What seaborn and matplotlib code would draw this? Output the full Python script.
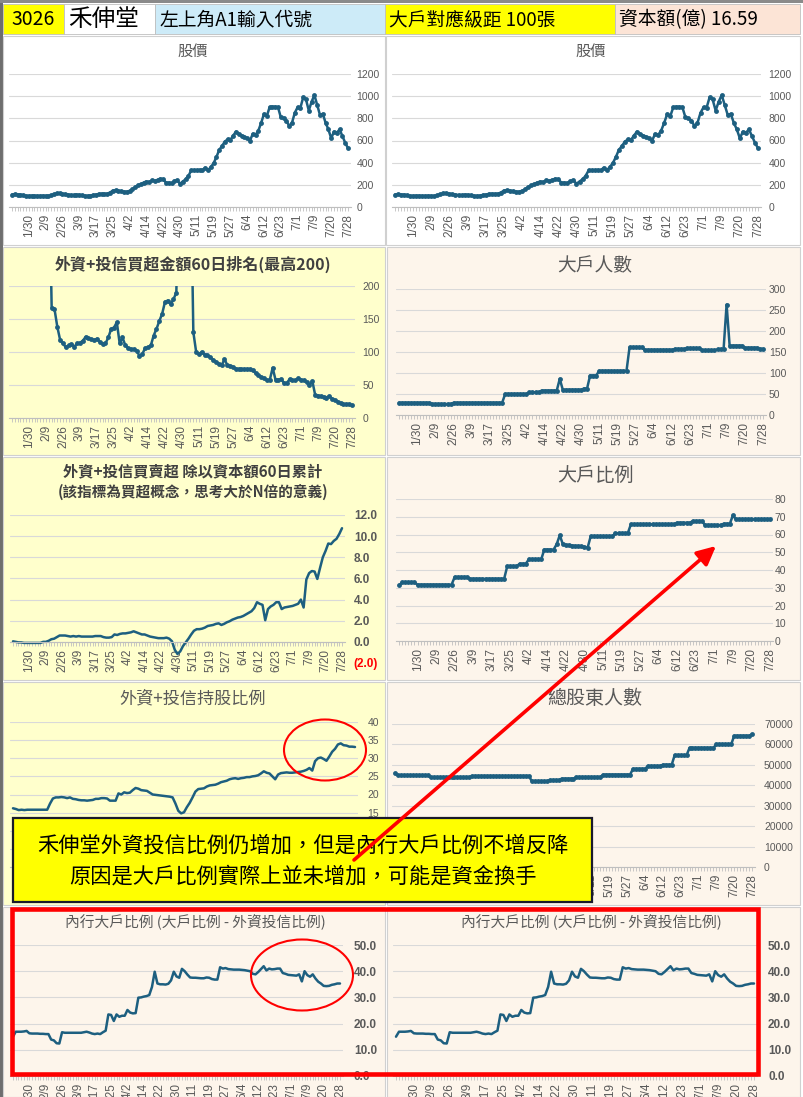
import pandas as pd
import seaborn as sns
import matplotlib.pyplot as plt
from matplotlib.patches import Rectangle, Ellipse

sns.set_style("white")
plt.rcParams['font.family'] = ['Noto Sans CJK TC', 'DejaVu Sans']
plt.rcParams['axes.unicode_minus'] = False

# ---------------- data ----------------
date_labels = ["1/30", "2/9", "2/26", "3/9", "3/17", "3/25", "4/2", "4/14", "4/22", "4/30",
               "5/11", "5/19", "5/27", "6/4", "6/12", "6/23", "7/1", "7/9", "7/20", "7/28"]
label_pos = list(range(6, 121, 6))
days = list(range(121))

price = [112, 115, 112, 112, 105, 100, 100, 102, 102, 100,
         100, 102, 100, 100, 105, 115, 122, 122, 120, 115,
         112, 108, 105, 112, 110, 105, 100, 100, 102, 108,
         112, 118, 120, 118, 120, 130, 148, 150, 148, 140,
         138, 138, 145, 160, 180, 195, 205, 220, 230, 225,
         240, 235, 245, 255, 250, 220, 220, 215, 235, 240,
         210, 230, 250, 280, 330, 330, 330, 335, 330, 355,
         330, 360, 395, 450, 515, 550, 590, 610, 605, 645,
         680, 660, 645, 635, 620, 600, 660, 650, 690, 760,
         840, 820, 900, 905, 905, 900, 810, 800, 780, 730,
         760, 850, 900, 895, 990, 970, 870, 950, 1010, 920,
         830, 840, 760, 700, 620, 680, 670, 700, 640, 580,
         530]

# values above 200 run off the top of the chart
rank60 = [400, 400, 400, 400, 400, 400, 400, 400, 400, 400,
          400, 400, 400, 400, 167, 165, 138, 118, 113, 107,
          110, 112, 108, 113, 114, 117, 123, 121, 119, 118,
          120, 115, 112, 113, 122, 135, 137, 145, 113, 122,
          110, 106, 104, 104, 102, 94, 97, 106, 107, 110,
          125, 135, 147, 158, 176, 178, 172, 180, 190, 400,
          400, 400, 400, 400, 130, 100, 97, 100, 96, 95,
          92, 88, 85, 82, 80, 89, 80, 79, 77, 75,
          74, 74, 74, 74, 74, 72, 68, 65, 62, 60,
          57, 58, 76, 58, 58, 59, 53, 53, 59, 57,
          57, 60, 58, 57, 54, 50, 56, 35, 34, 33,
          32, 31, 33, 29, 27, 25, 22, 21, 21, 21,
          19]

big_holders = [29, 29, 29, 29, 29, 29, 29, 29, 29, 29,
               29, 26, 26, 26, 26, 26, 26, 26, 29, 29,
               29, 29, 29, 29, 29, 29, 29, 29, 29, 29,
               29, 29, 29, 29, 29, 50, 50, 50, 50, 50,
               50, 50, 50, 54, 54, 54, 54, 58, 58, 58,
               58, 58, 58, 86, 60, 60, 60, 60, 60, 60,
               60, 63, 63, 94, 94, 94, 105, 105, 105, 105,
               105, 105, 105, 105, 105, 105, 161, 161, 161, 161,
               161, 155, 155, 155, 155, 155, 155, 155, 155, 155,
               155, 157, 157, 157, 157, 159, 159, 159, 159, 159,
               154, 154, 154, 154, 154, 156, 156, 156, 263, 165,
               165, 165, 165, 165, 160, 160, 160, 160, 160, 157,
               157]

cum_ratio = [0.05, 0.0, -0.05, -0.05, -0.1, -0.1, -0.1, -0.1, -0.1, -0.1,
             -0.1, 0.0, 0.0, 0.1, 0.25, 0.3, 0.45, 0.6, 0.6, 0.6,
             0.55, 0.5, 0.55, 0.5, 0.55, 0.5, 0.5, 0.5, 0.5, 0.5,
             0.55, 0.55, 0.55, 0.45, 0.4, 0.4, 0.45, 0.7, 0.65, 0.75,
             0.8, 0.8, 0.85, 0.9, 1.0, 0.9, 0.8, 0.7, 0.7, 0.6,
             0.5, 0.45, 0.4, 0.35, 0.35, 0.35, 0.4, 0.3, 0.05, -0.75,
             -1.15, -0.9, -0.4, -0.05, 0.3, 0.7, 1.05, 1.2, 1.2, 1.25,
             1.35, 1.5, 1.55, 1.6, 1.7, 1.75, 1.6, 1.7, 1.85, 1.95,
             2.1, 2.2, 2.3, 2.35, 2.45, 2.6, 2.75, 2.9, 3.2, 3.75,
             3.6, 3.5, 2.05, 3.1, 3.35, 3.5, 3.75, 3.75, 3.1, 3.25,
             3.3, 3.35, 3.4, 3.5, 3.6, 4.0, 3.25, 5.9, 6.5, 6.7,
             6.65, 5.95, 7.0, 8.0, 8.6, 9.3, 9.25, 9.55, 9.75, 10.2,
             10.75]

big_ratio = [31.3, 33.0, 33.0, 33.0, 33.0, 33.0, 31.7, 31.7, 31.7, 31.7,
             31.7, 31.7, 31.7, 31.7, 31.7, 31.7, 31.7, 31.7, 36.0, 36.0,
             36.0, 36.0, 36.0, 35.0, 35.0, 35.0, 35.0, 35.0, 35.0, 35.0,
             35.0, 35.0, 35.0, 35.0, 35.0, 42.0, 42.0, 42.0, 42.0, 43.5,
             43.5, 43.5, 46.0, 46.0, 46.0, 46.0, 46.0, 51.5, 51.5, 51.5,
             51.5, 54.5, 59.6, 54.5, 54.0, 54.0, 53.8, 53.5, 53.5, 53.3,
             53.0, 52.5, 59.0, 59.0, 59.0, 59.0, 59.0, 59.0, 59.0, 59.0,
             60.7, 60.7, 60.7, 60.7, 60.7, 65.7, 65.7, 65.7, 65.7, 65.7,
             65.7, 65.7, 65.7, 65.7, 65.7, 65.7, 65.7, 65.7, 65.7, 65.7,
             66.6, 66.6, 66.6, 66.6, 66.6, 67.5, 67.5, 67.5, 67.5, 65.3,
             65.3, 65.3, 65.3, 65.3, 65.3, 66.0, 66.0, 66.0, 70.8, 68.5,
             68.5, 68.5, 68.5, 68.5, 68.5, 68.5, 68.5, 68.5, 68.5, 68.5,
             68.5]

inst_hold = [16.2, 16.0, 15.7, 15.8, 15.7, 15.8, 15.8, 15.8, 15.8, 15.8,
             15.8, 15.8, 15.8, 17.5, 18.9, 19.2, 19.2, 19.3, 19.2, 19.0,
             19.2, 18.8, 18.7, 18.5, 18.4, 18.4, 18.3, 18.4, 18.5, 18.8,
             18.8, 19.0, 19.0, 18.9, 18.3, 18.3, 18.3, 20.3, 20.0, 20.6,
             20.4, 20.5, 21.2, 21.8, 21.6, 21.2, 21.1, 21.0, 20.5, 20.0,
             19.9, 19.8, 19.7, 19.6, 19.5, 19.4, 19.2, 17.5, 15.5, 14.8,
             15.1, 16.5, 17.7, 19.2, 20.8, 21.5, 21.6, 21.7, 22.2, 22.5,
             22.6, 22.7, 23.0, 23.4, 23.6, 23.8, 24.2, 24.4, 24.5, 24.3,
             24.5, 24.6, 24.8, 24.8, 25.0, 25.1, 25.3, 25.8, 26.4, 26.0,
             25.8, 25.0, 24.2, 25.5, 25.9, 26.0, 26.1, 26.0, 26.0, 26.1,
             26.2, 26.3, 26.5, 26.8, 27.3, 26.6, 29.2, 30.0, 30.2, 29.8,
             29.3, 30.5, 31.8, 32.6, 33.8, 34.1, 33.6, 33.5, 33.2, 33.2,
             33.1]

holders_total = [45800, 44800, 44800, 44800, 44800, 44800, 44800, 44800, 44800, 44800,
                 44800, 44800, 43900, 43900, 43900, 43900, 43900, 43900, 43900, 43900,
                 43900, 43900, 43900, 43900, 43900, 43900, 44500, 44500, 44500, 44500,
                 44500, 44500, 44500, 44500, 44500, 44500, 44500, 44500, 44500, 44500,
                 44500, 44500, 44500, 44500, 44500, 44500, 42000, 42000, 42000, 42000,
                 42000, 42000, 42500, 42500, 42500, 42500, 43200, 43200, 43200, 43200,
                 43200, 44000, 44000, 44000, 44000, 44000, 44000, 44000, 44000, 44000,
                 45200, 45200, 45200, 45200, 45200, 45200, 45200, 45200, 45200, 45200,
                 48000, 48000, 48000, 48000, 48000, 49400, 49400, 49400, 49400, 49400,
                 50000, 50000, 50000, 50000, 54700, 54700, 54700, 54700, 54700, 58300,
                 58300, 58300, 58300, 58300, 58300, 58300, 58300, 58300, 60000, 60000,
                 60000, 60000, 60000, 60000, 64200, 64200, 64200, 64200, 64200, 64200,
                 65000]

insider_ratio = [15.0, 16.9, 16.9, 16.9, 17.0, 17.2, 16.3, 16.2, 16.2, 16.2,
                 16.1, 16.1, 16.0, 16.0, 13.9, 13.6, 12.5, 12.4, 16.7, 16.5,
                 16.5, 16.5, 16.5, 16.5, 16.5, 16.5, 16.7, 16.9, 16.6, 16.2,
                 16.0, 16.2, 16.0, 16.7, 17.3, 23.5, 23.3, 21.0, 23.5, 22.6,
                 23.0, 23.0, 25.2, 24.2, 23.9, 24.0, 29.9, 30.0, 30.3, 30.5,
                 30.9, 34.0, 39.8, 35.3, 35.0, 35.0, 34.9, 35.2, 36.5, 39.8,
                 38.0, 37.5, 40.9, 40.0, 38.7, 37.6, 37.5, 37.5, 37.4, 37.3,
                 37.3, 37.6, 37.5, 37.0, 36.8, 36.8, 41.5, 41.0, 41.2, 40.8,
                 40.7, 40.6, 40.6, 40.6, 40.5, 40.4, 40.2, 40.0, 39.0, 38.8,
                 39.7, 40.8, 41.9, 40.3, 41.0, 40.7, 40.8, 41.0, 41.0, 39.3,
                 39.0, 38.6, 38.5, 38.4, 38.3, 38.8, 36.1, 40.0, 38.5, 37.9,
                 38.8, 37.2, 36.0, 35.3, 34.4, 34.3, 34.4, 34.8, 35.0, 35.3,
                 35.3]

# ---------------- styling ----------------
W, H = 804, 1097
LINE = '#1d5f80'
GRID = '#D9D9D9'
TXT = '#595959'
NUM = ['Liberation Sans', 'DejaVu Sans']
YELLOW_BG = '#FFFFCC'
PEACH_BG = '#FDF5EB'

fig = plt.figure(figsize=(W / 100, H / 100), dpi=100)

bg = fig.add_axes([0, 0, 1, 1], zorder=0)
bg.set_xlim(0, W)
bg.set_ylim(H, 0)
bg.axis('off')

# header cells
header = [(3, 64, '#FFFF00', '3026', 14, 'center'),
          (64, 155, 'white', '禾伸堂', 17, 'left'),
          (155, 385, '#CDEBF8', '左上角A1輸入代號', 13.5, 'left'),
          (385, 615, '#FFFF00', '大戶對應級距 100張', 13.5, 'left'),
          (615, 800, '#FCE4D6', '資本額(億) 16.59', 13.5, 'left')]
for x0, x1, fc, txt, fs, ha in header:
    bg.add_patch(Rectangle((x0, 4), x1 - x0, 30, fc=fc, ec='#BFBFBF', lw=0.6))
    tx = (x0 + x1) / 2 if ha == 'center' else x0 + 4
    bg.text(tx, 19.5, txt, fontsize=fs, ha=ha, va='center', color='black')
bg.add_patch(Rectangle((0, 0), 3, H, fc='#6e6e6e', ec='none'))
bg.add_patch(Rectangle((0, 0), W, 3, fc='#8a8a8a', ec='none'))

# chart panels
panels = [(3, 36, 385, 245, 'white'), (386, 36, 800, 245, 'white'),
          (3, 247, 385, 455, YELLOW_BG), (387, 247, 800, 455, PEACH_BG),
          (3, 457, 385, 680, YELLOW_BG), (387, 457, 800, 680, PEACH_BG),
          (3, 682, 385, 905, YELLOW_BG), (387, 682, 800, 905, PEACH_BG),
          (3, 907, 385, 1097, PEACH_BG), (387, 907, 800, 1097, PEACH_BG)]
for x0, y0, x1, y1, fc in panels:
    bg.add_patch(Rectangle((x0, y0), x1 - x0, y1 - y0, fc=fc, ec='#D0D0D0', lw=0.8))

titles = [(193, 51, '股價', 11, 'normal', TXT),
          (591, 51, '股價', 11, 'normal', TXT),
          (193, 264, '外資+投信買超金額60日排名(最高200)', 11.5, 'bold', '#404040'),
          (595, 266, '大戶人數', 13.5, 'normal', TXT),
          (193, 471, '外資+投信買賣超 除以資本額60日累計', 11, 'bold', '#404040'),
          (193, 492, '(該指標為買超概念，思考大於N倍的意義)', 10.5, 'bold', '#404040'),
          (595, 475, '大戶比例', 13.8, 'normal', TXT),
          (193, 698, '外資+投信持股比例', 12.3, 'normal', TXT),
          (595, 699, '總股東人數', 13.7, 'normal', TXT),
          (195, 922, '內行大戶比例 (大戶比例 - 外資投信比例)', 10.6, 'normal', TXT),
          (591, 922, '內行大戶比例 (大戶比例 - 外資投信比例)', 10.6, 'normal', TXT)]
for x, y, t, fs, fw, c in titles:
    bg.text(x, y, t, fontsize=fs, fontweight=fw, color=c, ha='center', va='center')


def chart(x0, x1, ytop, ybot, ymin, ymax, vals, yticks, ylabels,
          marker=True, bold=False, pad=5, axis_zero=False):
    step = (x1 - x0) / 120
    ax = fig.add_axes([(x0 - step) / W, 1 - ybot / H,
                       (x1 - x0 + 2 * step) / W, (ybot - ytop) / H], zorder=1)
    ax.patch.set_visible(False)
    df = pd.DataFrame({'day': days, 'value': vals})
    kw = dict(marker='o', markersize=3.5, markeredgewidth=0) if marker else {}
    sns.lineplot(data=df, x='day', y='value', ax=ax, color=LINE,
                 linewidth=1.8, sort=False, **kw)
    ax.set_xlim(-1, 121)
    ax.set_ylim(ymin, ymax)
    ax.set_xlabel('')
    ax.set_ylabel('')
    for s in ('left', 'right', 'top'):
        ax.spines[s].set_visible(False)
    ax.spines['bottom'].set_color('#BFBFBF')
    ax.spines['bottom'].set_linewidth(0.8)
    if axis_zero:
        ax.spines['bottom'].set_position(('data', 0))
    ax.set_xticks(label_pos)
    ax.set_xticklabels(date_labels, rotation=90, fontsize=8.5, color=TXT, family=NUM)
    ax.set_xticks(days, minor=True)
    ax.tick_params(axis='x', which='both', bottom=True, length=3, width=0.6,
                   color='#BFBFBF', pad=2)
    ax.yaxis.tick_right()
    ax.set_yticks(yticks)
    ax.set_yticklabels(ylabels, fontsize=8.5 if bold else 7.5,
                       fontweight='bold' if bold else 'normal', color=TXT, family=NUM)
    ax.tick_params(axis='y', length=0, pad=pad, right=False)
    ax.yaxis.grid(True, color=GRID, linewidth=0.8)
    ax.xaxis.grid(False)
    ax.set_axisbelow(True)
    return ax


p_ticks = [0, 200, 400, 600, 800, 1000, 1200]
chart(12, 348, 74, 207, 0, 1200, price, p_ticks, [str(v) for v in p_ticks], pad=4)
chart(395, 758, 74, 207, 0, 1200, price, p_ticks, [str(v) for v in p_ticks], pad=5.5)

r_ticks = [0, 50, 100, 150, 200]
chart(12, 352, 286, 418, 0, 200, rank60, r_ticks, [str(v) for v in r_ticks], pad=5.5)
b_ticks = [0, 50, 100, 150, 200, 250, 300]
chart(399, 763, 289, 415, 0, 300, big_holders, b_ticks, [str(v) for v in b_ticks], pad=2)

c_ticks = [-2, 0, 2, 4, 6, 8, 10, 12]
c_labels = ['(2.0)' if v < 0 else f'{v:.1f}' for v in c_ticks]
ax_c = chart(13, 342, 515, 663, -2, 12, cum_ratio, c_ticks, c_labels,
             marker=False, bold=True, pad=6.5, axis_zero=True)
ax_c.get_ygridlines()[0].set_visible(False)
for lbl in ax_c.get_yticklabels():
    if lbl.get_text().startswith('('):
        lbl.set_color('#FF0000')

br_ticks = list(range(0, 81, 10))
chart(399, 770, 499, 641, 0, 80, big_ratio, br_ticks, [str(v) for v in br_ticks], pad=1)

h_ticks = list(range(0, 41, 5))
chart(13, 355, 722, 867, 0, 40, inst_hold, h_ticks, [str(v) for v in h_ticks],
      marker=False, pad=7)
t_ticks = list(range(0, 70001, 10000))
chart(395, 752, 724, 867, 0, 70000, holders_total, t_ticks, [str(v) for v in t_ticks], pad=6.5)

i_ticks = [0, 10, 20, 30, 40, 50]
i_labels = [f'{v:.1f}' for v in i_ticks]
chart(13, 340, 945, 1076, 0, 50, insider_ratio, i_ticks, i_labels,
      marker=False, bold=True, pad=8)
chart(396, 754, 945, 1076, 0, 50, insider_ratio, i_ticks, i_labels,
      marker=False, bold=True, pad=8)

# ---------------- annotations on top ----------------
top = fig.add_axes([0, 0, 1, 1], zorder=10)
top.set_xlim(0, W)
top.set_ylim(H, 0)
top.axis('off')
top.patch.set_visible(False)

top.add_patch(Ellipse((325, 750), 82, 61, fill=False, ec='#FF0000', lw=1.5))
top.add_patch(Ellipse((302, 975), 102, 71, fill=False, ec='#FF0000', lw=1.5))
top.add_patch(Rectangle((12.5, 908.5), 746, 165.5, fill=False, ec='#FF0000', lw=3.3))

top.add_patch(Rectangle((13, 818), 579, 84, fc='#FFFF00', ec='#1a1a2a', lw=1.6))
top.text(302.5, 846, '禾伸堂外資投信比例仍增加，但是內行大戶比例不增反降',
         fontsize=15.3, ha='center', va='center', color='black')
top.text(302.5, 877, '原因是大戶比例實際上並未增加，可能是資金換手',
         fontsize=15.3, ha='center', va='center', color='black')

top.annotate('', xy=(716, 546), xytext=(354, 860),
             arrowprops=dict(arrowstyle='-|>,head_length=0.45,head_width=0.22',
                             color='#FF0000', lw=2.6, mutation_scale=25,
                             shrinkA=0, shrinkB=0))

fig.savefig('out.png', dpi=100)
